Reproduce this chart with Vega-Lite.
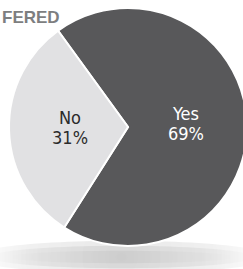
{
  "$schema": "https://vega.github.io/schema/vega-lite/v6.json",
  "width": 230,
  "height": 254,
  "autosize": {"type": "none"},
  "padding": {"left": 13, "top": 0, "right": 0, "bottom": 15},
  "background": "#ffffff",
  "title": {
    "text": "FERED",
    "anchor": "start",
    "frame": "group",
    "offset": -27,
    "dx": -11,
    "font": "Liberation Sans",
    "fontSize": 17,
    "fontWeight": "bold",
    "color": "#7d7e80"
  },
  "config": {"view": {"stroke": null}},
  "layer": [
    {
      "data": {"values": [{"part": "shadow"}]},
      "mark": {"type": "point", "shape": "M -1.252 1.04 A 1.2 0.13 0 1 0 1.148 1.04 A 1.2 0.13 0 1 0 -1.252 1.04 Z", "size": 62500, "filled": true, "strokeWidth": 0, "opacity": 1,
        "fill": {"gradient": "radial", "x1": 0.5, "y1": 0.5, "r1": 0, "x2": 0.5, "y2": 0.5, "r2": 0.5, "stops": [{"offset": 0, "color": "rgba(0,0,0,0.09)"}, {"offset": 0.6, "color": "rgba(0,0,0,0.06)"}, {"offset": 1, "color": "rgba(0,0,0,0)"}]}},
      "encoding": {}
    },
    {
      "data": {"values": [{"part": "shadow"}]},
      "mark": {"type": "point", "shape": "M -1.102 1.04 A 1.05 0.09 0 1 0 0.998 1.04 A 1.05 0.09 0 1 0 -1.102 1.04 Z", "size": 62500, "filled": true, "strokeWidth": 0, "opacity": 1,
        "fill": {"gradient": "radial", "x1": 0.5, "y1": 0.5, "r1": 0, "x2": 0.5, "y2": 0.5, "r2": 0.5, "stops": [{"offset": 0, "color": "rgba(0,0,0,0.07)"}, {"offset": 0.6, "color": "rgba(0,0,0,0.05)"}, {"offset": 1, "color": "rgba(0,0,0,0)"}]}},
      "encoding": {}
    },
    {
      "data": {"values": [{"part": "shadow"}]},
      "mark": {"type": "point", "shape": "M -0.952 1.04 A 0.9 0.05 0 1 0 0.848 1.04 A 0.9 0.05 0 1 0 -0.952 1.04 Z", "size": 62500, "filled": true, "strokeWidth": 0, "opacity": 1,
        "fill": {"gradient": "radial", "x1": 0.5, "y1": 0.5, "r1": 0, "x2": 0.5, "y2": 0.5, "r2": 0.5, "stops": [{"offset": 0, "color": "rgba(0,0,0,0.05)"}, {"offset": 1, "color": "rgba(0,0,0,0)"}]}},
      "encoding": {}
    },
    {
      "data": {"values": [{"answer": "Yes", "share": 69, "label": "Yes\n69%"}, {"answer": "No", "share": 31, "label": "No\n31%"}]},
      "layer": [
        {
          "mark": {"type": "arc", "outerRadius": 119, "stroke": "#ffffff", "strokeWidth": 2},
          "encoding": {
            "theta": {"field": "share", "type": "quantitative", "stack": true, "scale": {"range": [-0.6283, 5.6549]}},
            "order": {"field": "answer", "sort": "descending"},
            "color": {"field": "answer", "type": "nominal", "scale": {"domain": ["Yes", "No"], "range": ["#58585a", "#e1e1e3"]}, "legend": null}
          }
        },
        {
          "mark": {"type": "text", "radius": 58, "dy": -10, "fontSize": 18, "lineHeight": 20, "lineBreak": "\n", "align": "center", "baseline": "middle", "font": "Liberation Sans Narrow, DejaVu Sans Condensed, Arial Narrow, sans-serif"},
          "encoding": {
            "theta": {"field": "share", "type": "quantitative", "stack": true},
            "order": {"field": "answer", "sort": "descending"},
            "text": {"field": "label"},
            "color": {"condition": {"test": "datum.answer === 'Yes'", "value": "#ffffff"}, "value": "#2b2b2b"}
          }
        }
      ]
    }
  ]
}
